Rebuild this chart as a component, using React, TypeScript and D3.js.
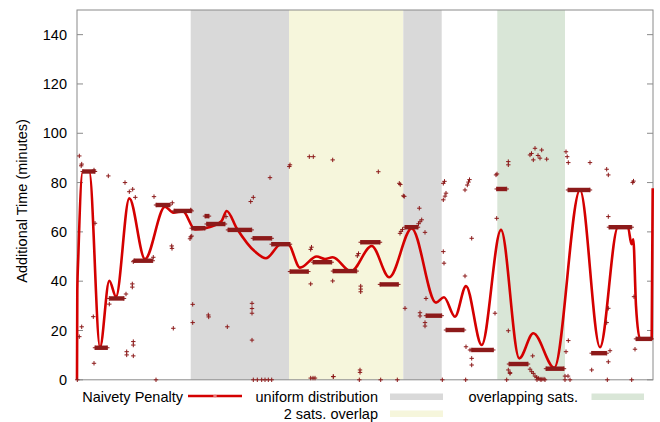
import React from "react";
import * as d3 from "d3";

// Run index along the horizontal axis, additional time in minutes vertically.
const X_DOMAIN: [number, number] = [0, 576];
const Y_DOMAIN: [number, number] = [0, 150];
const Y_TICKS = [0, 20, 40, 60, 80, 100, 120, 140];

// Background regions: [start, end, kind]
const regions: [number, number, string][] = [
  [113.7, 212, "uniform"],
  [212, 326.3, "overlap2"],
  [326.3, 364.7, "uniform"],
  [420.3, 488, "overlapping"],
];

// Smoothed naivety penalty: [run, minutes]
const penaltyCurve: [number, number][] = [
  [0, 0], [0.3, 36], [1.3, 50], [5.7, 84.4], [12.3, 84.4], [23, 13.2],
  [32.3, 40.2], [39, 33.7], [52.3, 73.6], [68, 49], [88, 70.2], [96.3, 67.8],
  [106, 68.3], [118, 61], [133, 62], [144.7, 64.5], [149.7, 68.5], [159.7, 61.5],
  [178, 52], [189, 49.3], [204, 55], [211, 55], [223, 45.5], [239.7, 50],
  [248, 49], [255.7, 49.7], [274, 44], [294.7, 54.3], [312.3, 41.6],
  [334.7, 61.4], [359, 31.3], [367, 33.5], [378, 25.6], [389, 38],
  [404.7, 14.1], [424, 60.8], [442.3, 8.7], [456.3, 18.9], [477.3, 4.9],
  [503, 77], [523, 13.2], [541, 61.9], [551, 61.9], [554.5, 55],
  [556.3, 57], [559, 30], [563, 16.6], [574.7, 16.6], [575.7, 77.7],
];

// Runs of repeated measurements at one level: [start, end, minutes]
const penaltyRuns: [number, number, number][] = [
  [5.7, 18, 84.5], [18, 30.3, 13], [32.3, 47, 33], [57, 75.7, 48.3],
  [79, 93, 70.9], [97, 114.7, 68.5], [114.7, 128, 61.5], [129.7, 148, 63.2],
  [128, 132, 66.4], [151, 174.7, 60.8], [176, 194.7, 57.4], [194.7, 213, 55],
  [213, 231.3, 43.9], [236, 254.7, 47.7], [256, 279.7, 44.1], [283.7, 303, 55.8],
  [303, 321.3, 38.7], [328, 341, 61.9], [349, 364.7, 26], [369, 387, 20.2],
  [394.7, 416.3, 12.1], [419.7, 429.7, 77.4], [432, 451, 6.4], [469, 487, 4.5],
  [491, 513, 77], [514.7, 529.7, 10.8], [532, 554.7, 61.9], [559, 574.7, 16.6],
];

// Individual measurements: [run, minutes]
const penaltySamples: [number, number][] = [
  [2.3, 90.8], [4.7, 87.5], [4.2, 86.8], [17, 85.1], [31.3, 82.7], [48, 80],
  [52.3, 76.3], [55.7, 77.3], [58.3, 74], [77, 74.3], [95.3, 71.8], [113.7, 68.9],
  [18, 63.5], [94.7, 54.3], [95, 53.3], [113.7, 58], [113, 57.2], [76.3, 49.7],
  [56.3, 47.9], [55.3, 38.9], [55.3, 37.6], [49, 34.8], [32.3, 30.7], [16.3, 25.6],
  [4.7, 21.5], [2.3, 17.5], [17, 6.7], [49.7, 11.4], [49.7, 10.1], [56.3, 15.5],
  [56.3, 14.1], [56.3, 9.7], [96.3, 20.9], [115.7, 30.6], [115.7, 23.2],
  [149, 66.2], [173.7, 72.3], [176.3, 74], [193, 82], [212.3, 86.5], [213, 87.2],
  [232.3, 90.5], [236.3, 90.5], [255.7, 89.2], [114.7, 58.3], [131.3, 26.3],
  [131.7, 25.5], [150.3, 21.5], [175, 31], [175, 28.9], [175, 27], [175, 16.1],
  [233.7, 52.9], [234.5, 53.8], [233.7, 38.9], [255.7, 40.1], [256.3, 1.3],
  [301.3, 84.4], [322.3, 79.7], [323.3, 79.2], [326.3, 74.6], [327.3, 74.4],
  [342.3, 69.6], [344.7, 64.9], [343, 64.1], [341.5, 63.3], [323, 59.4],
  [324, 60.2], [325.5, 61], [348, 59.8], [280.3, 50.3], [281.5, 51.2],
  [283.7, 38], [283.7, 36.8], [283.7, 35.7], [328, 29], [343, 27.2], [343, 25.9],
  [348, 23.2], [348, 21.8], [349, 33], [366.3, 79.7], [367.5, 80.5], [369, 75.7],
  [368, 74.5], [366.3, 73], [366.3, 52], [367, 47.3], [390.3, 79], [391.5, 80.2],
  [392.5, 81.2], [388, 77], [394.7, 57.4], [388, 42.1], [389, 13.4], [393, 12.1],
  [394.7, 8.7], [394.7, 6], [283, 4], [283, 3],
  [419, 83.1], [420, 83.5], [431.3, 88.5], [431.3, 87.2], [453, 91.2],
  [454.5, 91.8], [458, 93.9], [464.7, 93.2], [456.3, 89.2], [463, 89.9],
  [469.7, 89.5], [461, 91], [489, 92.5], [490.2, 90.5], [491.3, 88.1], [513, 88.1],
  [529.7, 85.4], [531.3, 83.1], [555.7, 80], [556.5, 80.6], [419.7, 65.5],
  [418, 27], [431.3, 19.9], [455.7, 9.7], [431.3, 4], [433, 2.6], [491.3, 15.9],
  [489, 11.4], [531.3, 29], [529.7, 23.2], [533, 11.8], [531.3, 7.3], [514.7, 4],
  [557, 33.7], [558, 12.4], [531.3, 66.2],
  [453, 4.3], [454.7, 3.3], [456.3, 2.6], [458, 1.5], [459.7, 1], [461.3, 0.6],
  [463, 0.3], [465, 0.3], [467, 0.3], [433, 2.9], [491, 1.5], [488, 1.5],
  [233.7, 0.7], [236, 0.7], [238, 0.7], [256.3, 1.3],
  [0.3, 0], [79, 0], [176.3, 0], [180.3, 0], [184.7, 0], [188, 0], [191.3, 0],
  [194.7, 0], [282.3, 0], [303.7, 0], [320.3, 0], [365.3, 0], [388.7, 0],
  [429.7, 0], [460, 0], [464, 0], [468, 0], [488, 0], [493, 0], [530.3, 0],
  [554.7, 0],
];

const legendSeries = "Naivety Penalty";
const regionLabels: Record<string, string> = {
  uniform: "uniform distribution",
  overlap2: "2 sats. overlap",
  overlapping: "overlapping sats.",
};

const regionFill: Record<string, string> = {
  uniform: "#d9d9d9",
  overlap2: "#f6f6dc",
  overlapping: "#d9e6d7",
};

const FONT = "'Liberation Sans', Arial, Helvetica, sans-serif";
const LINE_RED = "#d40000";
const POINT_RED = "#8c1a1a";
const FRAME = "#8a8a8a";

function Plus({ x, y, r = 2.2, color = POINT_RED }: { x: number; y: number; r?: number; color?: string }) {
  return (
    <path
      d={`M${x - r},${y}H${x + r}M${x},${y - r}V${y + r}`}
      stroke={color}
      strokeWidth={1}
      fill="none"
    />
  );
}

export default function App() {
  const left = 77;
  const right = 653;
  const top = 10;
  const bottom = 379.8;

  const x = d3.scaleLinear().domain(X_DOMAIN).range([left, right]);
  const y = d3.scaleLinear().domain(Y_DOMAIN).range([bottom, top]);

  const line = d3
    .line<[number, number]>()
    .x((d) => x(d[0]))
    .y((d) => y(d[1]))
    .curve(d3.curveMonotoneX);

  return (
    <svg
      width={660}
      height={422}
      viewBox="0 0 660 422"
      style={{ position: "fixed", left: 0, top: 0, background: "#fff" }}
      fontFamily={FONT}
    >
      <rect width={660} height={422} fill="#fff" />

      {/* shaded regions */}
      {regions.map(([a, b, kind], i) => (
        <rect
          key={i}
          x={x(a)}
          y={top}
          width={x(b) - x(a)}
          height={bottom - top}
          fill={regionFill[kind]}
        />
      ))}

      {/* frame */}
      <rect
        x={left}
        y={top}
        width={right - left}
        height={bottom - top}
        fill="none"
        stroke={FRAME}
        strokeWidth={1}
      />

      {/* y ticks, mirrored on both sides */}
      {Y_TICKS.map((t) => (
        <g key={t}>
          <line x1={left} x2={left + 6} y1={y(t)} y2={y(t)} stroke={FRAME} />
          <line x1={right - 6} x2={right} y1={y(t)} y2={y(t)} stroke={FRAME} />
          <text
            x={left - 10}
            y={y(t)}
            dy="0.35em"
            textAnchor="end"
            fontSize={14.5}
            fill="#000"
          >
            {t}
          </text>
        </g>
      ))}

      <text
        transform={`translate(22,${(top + bottom) / 2 + 6}) rotate(-90)`}
        textAnchor="middle"
        dy="0.35em"
        fontSize={14.5}
        fill="#000"
      >
        Additional Time (minutes)
      </text>

      {/* smoothed penalty */}
      <path d={line(penaltyCurve) ?? ""} fill="none" stroke={LINE_RED} strokeWidth={2.6} strokeLinejoin="round" />

      {/* runs of repeated measurements */}
      {penaltyRuns.map(([a, b, v], i) => (
        <g key={`r${i}`}>
          <rect x={x(a)} y={y(v) - 2.2} width={x(b) - x(a)} height={4.4} fill={POINT_RED} />
          <Plus x={x(a)} y={y(v)} />
          <Plus x={x(b)} y={y(v)} />
        </g>
      ))}

      {/* individual measurements */}
      {penaltySamples.map(([a, v], i) => (
        <Plus key={`p${i}`} x={x(a)} y={y(v)} />
      ))}

      {/* legend */}
      <g fontSize={14.5} fill="#000">
        <text x={183} y={397} dy="0.35em" textAnchor="end">{legendSeries}</text>
        <line x1={188} x2={242} y1={396} y2={396} stroke={LINE_RED} strokeWidth={2.6} />
        <Plus x={215} y={396} r={2} color="#f0a0a0" />

        <text x={378} y={397} dy="0.35em" textAnchor="end">{regionLabels.uniform}</text>
        <rect x={390} y={393.5} width={53} height={6.5} fill={regionFill.uniform} />

        <text x={378} y={413.5} dy="0.35em" textAnchor="end">{regionLabels.overlap2}</text>
        <rect x={390} y={410.5} width={53} height={6.5} fill={regionFill.overlap2} />

        <text x={578} y={397} dy="0.35em" textAnchor="end">{regionLabels.overlapping}</text>
        <rect x={591.5} y={393.5} width={52.5} height={6.5} fill={regionFill.overlapping} />
      </g>
    </svg>
  );
}
